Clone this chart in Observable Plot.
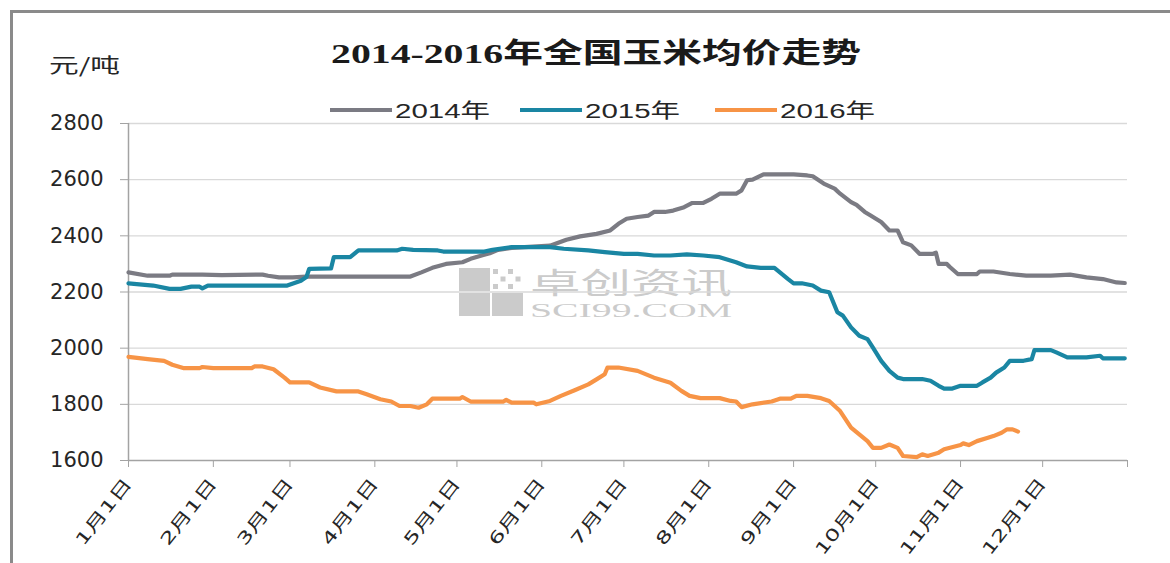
<!DOCTYPE html>
<html><head><meta charset="utf-8">
<script src="https://cdn.jsdelivr.net/npm/d3@7"></script>
<script src="https://cdn.jsdelivr.net/npm/@observablehq/plot@0.6"></script>
<style>
body{margin:0;background:#fff;}
#wrap{position:relative;width:1170px;height:563px;overflow:hidden;background:#fff;}
#frame{position:absolute;left:10px;top:10px;width:1200px;height:600px;border-top:3px solid #8a8a8a;border-left:3px solid #8a8a8a;pointer-events:none;}
#wrap svg{position:absolute;left:0;top:0;}
</style></head><body><div id="wrap"><div id="frame"></div></div>
<script>
const titleText = "2014-2016年全国玉米均价走势";
const unitText = "元/吨";
const seriesNames = ["2014年", "2015年", "2016年"];
const seriesColors = ["#7b7b83", "#1a86a3", "#f79446"];
const yTicks = [1600, 1800, 2000, 2200, 2400, 2600, 2800];
const monthLabels = ["1月1日","2月1日","3月1日","4月1日","5月1日","6月1日","7月1日","8月1日","9月1日","10月1日","11月1日","12月1日"];

const price2014 = [["1-1",2270],["1-8",2258],["1-16",2258],["1-17",2262],["1-28",2262],["2-4",2260],["2-19",2262],["2-21",2258],["2-25",2252],["3-2",2252],["3-7",2255],["4-14",2255],["4-18",2270],["4-22",2286],["4-27",2300],["5-3",2306],["5-6",2318],["5-10",2330],["5-13",2338],["5-16",2350],["5-21",2357],["6-4",2365],["6-10",2386],["6-15",2398],["6-21",2407],["6-26",2419],["6-29",2443],["7-2",2461],["7-6",2467],["7-10",2472],["7-12",2485],["7-16",2485],["7-19",2490],["7-23",2502],["7-26",2517],["7-30",2517],["8-2",2532],["8-5",2550],["8-11",2550],["8-13",2562],["8-15",2598],["8-17",2600],["8-21",2619],["9-1",2619],["9-6",2615],["9-8",2612],["9-12",2586],["9-16",2568],["9-18",2550],["9-22",2520],["9-24",2510],["9-27",2485],["9-29",2473],["10-3",2449],["10-6",2419],["10-9",2419],["10-11",2377],["10-14",2366],["10-17",2336],["10-22",2336],["10-23",2340],["10-24",2300],["10-27",2300],["10-28",2290],["10-31",2264],["11-7",2264],["11-8",2273],["11-13",2273],["11-19",2264],["11-25",2258],["12-4",2258],["12-11",2262],["12-17",2252],["12-23",2246],["12-28",2234],["12-31",2232]];

const price2015 = [["1-1",2231],["1-10",2223],["1-16",2211],["1-20",2211],["1-24",2219],["1-27",2219],["1-28",2213],["1-30",2223],["2-28",2223],["3-5",2240],["3-7",2253],["3-8",2282],["3-16",2284],["3-17",2324],["3-23",2324],["3-26",2348],["4-9",2348],["4-11",2354],["4-15",2350],["4-24",2348],["4-26",2344],["5-11",2344],["5-14",2350],["5-21",2360],["6-4",2360],["6-9",2354],["6-18",2348],["6-24",2342],["7-1",2336],["7-6",2336],["7-12",2330],["7-18",2330],["7-24",2334],["7-30",2330],["8-5",2324],["8-11",2306],["8-15",2291],["8-20",2286],["8-25",2286],["8-27",2270],["8-30",2246],["9-1",2231],["9-4",2231],["9-8",2223],["9-11",2205],["9-14",2199],["9-17",2128],["9-19",2116],["9-22",2074],["9-25",2044],["9-28",2032],["9-30",2002],["10-3",1955],["10-6",1919],["10-9",1895],["10-11",1890],["10-18",1890],["10-21",1884],["10-24",1866],["10-26",1856],["10-29",1856],["11-1",1866],["11-7",1866],["11-9",1878],["11-12",1895],["11-14",1913],["11-17",1931],["11-19",1955],["11-24",1955],["11-27",1961],["11-28",1993],["12-4",1993],["12-6",1985],["12-10",1967],["12-17",1967],["12-22",1973],["12-23",1964],["12-31",1964]];

const price2016 = [["1-1",1969],["1-8",1961],["1-14",1955],["1-17",1941],["1-21",1929],["1-27",1929],["1-28",1933],["2-1",1929],["2-15",1929],["2-16",1935],["2-19",1935],["2-23",1925],["2-27",1895],["3-1",1878],["3-8",1878],["3-12",1860],["3-18",1846],["3-26",1846],["3-29",1836],["4-3",1818],["4-7",1810],["4-10",1794],["4-14",1794],["4-17",1788],["4-20",1800],["4-22",1820],["5-2",1820],["5-3",1826],["5-6",1810],["5-18",1810],["5-19",1816],["5-21",1806],["5-29",1806],["5-30",1800],["6-4",1812],["6-8",1830],["6-13",1850],["6-18",1871],["6-21",1889],["6-24",1907],["6-25",1931],["6-29",1931],["7-6",1919],["7-12",1895],["7-18",1877],["7-22",1848],["7-25",1830],["7-29",1822],["8-5",1822],["8-9",1812],["8-11",1810],["8-13",1790],["8-17",1800],["8-24",1810],["8-27",1820],["8-31",1820],["9-2",1830],["9-6",1830],["9-11",1822],["9-14",1812],["9-18",1776],["9-22",1717],["9-25",1693],["9-28",1669],["9-30",1645],["10-3",1645],["10-6",1657],["10-9",1645],["10-11",1616],["10-16",1612],["10-18",1622],["10-20",1616],["10-24",1628],["10-26",1640],["11-1",1655],["11-2",1661],["11-4",1655],["11-7",1669],["11-11",1681],["11-13",1687],["11-16",1699],["11-18",1711],["11-20",1711],["11-22",1703]];

const toDate = s => { const [m, d] = s.split("-").map(Number); return new Date(Date.UTC(2015, m - 1, d)); };
const data = [];
[price2014, price2015, price2016].forEach((arr, i) => {
  arr.forEach(([md, v]) => data.push({series: seriesNames[i], date: toDate(md), value: v}));
});
const x0 = new Date(Date.UTC(2015, 0, 1)), x1 = new Date(Date.UTC(2016, 0, 1));
const xTicks = d3.range(12).map(m => new Date(Date.UTC(2015, m, 1))).concat([x1]);

const chart = Plot.plot({
  width: 1170, height: 563,
  marginLeft: 128, marginRight: 43, marginTop: 123, marginBottom: 103,
  style: {fontFamily: "'DejaVu Sans', 'Noto Sans CJK SC', sans-serif", color: "#262626", background: "transparent", overflow: "visible"},
  x: {type: "utc", domain: [x0, x1], label: null},
  y: {domain: [1600, 2800], label: null},
  color: {domain: seriesNames, range: seriesColors},
  marks: [
    Plot.gridY(yTicks.slice(1), {stroke: "#d9d9d9", strokeOpacity: 1, strokeWidth: 1.3}),
    Plot.ruleY([1600], {stroke: "#a3a3a3", strokeWidth: 1.5}),
    Plot.ruleX([x0], {stroke: "#a3a3a3", strokeWidth: 1.5}),
    Plot.axisY(yTicks, {tickSize: 8, tickPadding: 17, fontSize: 21, stroke: "#a3a3a3", fill: "#262626", label: null, tickFormat: d => String(d)}),
    Plot.axisX(xTicks, {tickSize: 7, tickPadding: 13, tickRotate: -52, fontSize: 16.5, stroke: "#a3a3a3", fill: "#262626", label: null,
      tickFormat: d => d.getUTCFullYear() === 2016 ? "" : monthLabels[d.getUTCMonth()]}),
    Plot.line(data, {x: "date", y: "value", z: "series", stroke: "series", strokeWidth: 4.2, strokeLinejoin: "round", strokeLinecap: "round"})
  ]
});

const svg = d3.select(chart);
svg.selectAll('g[aria-label="x-axis tick label"] text').each(function() {
  const t = this.textContent;
  if (t) { this.setAttribute("textLength", t.length > 4 ? 92 : 80); this.setAttribute("lengthAdjust", "spacingAndGlyphs"); }
});

// watermark (behind lines)
const wm = svg.insert("g", "g").attr("fill", "#cbcbcb").attr("text-anchor", "start");
wm.append("rect").attr("x", 459).attr("y", 268).attr("width", 31).attr("height", 23);
wm.append("rect").attr("x", 459).attr("y", 293).attr("width", 31).attr("height", 23);
wm.append("rect").attr("x", 492).attr("y", 293).attr("width", 31).attr("height", 23);
for (let i = 0; i < 4; i++) for (let j = 0; j < 3; j++) if ((i + j) % 2 === 0)
  wm.append("rect").attr("x", 493 + i * 7.5).attr("y", 269 + j * 7.5).attr("width", 5).attr("height", 5);
wm.append("text").attr("x", 530).attr("y", 294).attr("font-size", 29).attr("font-family", "'Noto Sans CJK SC'")
  .attr("textLength", 202).attr("lengthAdjust", "spacingAndGlyphs").text("卓创资讯");
wm.append("text").attr("x", 530).attr("y", 317).attr("font-size", 19).attr("font-family", "'Liberation Serif', serif")
  .attr("textLength", 202).attr("lengthAdjust", "spacingAndGlyphs").text("SCI99.COM");

// title, unit, legend
const ov = svg.append("g").attr("text-anchor", "start");
ov.append("text").attr("x", 331).attr("y", 63).attr("font-size", 28).attr("font-weight", "bold")
  .attr("font-family", "'Liberation Serif', 'Noto Sans CJK SC', serif").attr("fill", "#1a1a1a")
  .attr("textLength", 530).attr("lengthAdjust", "spacingAndGlyphs").text(titleText);
ov.append("text").attr("x", 49).attr("y", 73).attr("font-size", 20)
  .attr("font-family", "'Noto Sans CJK SC', sans-serif").attr("fill", "#262626")
  .attr("textLength", 71).attr("lengthAdjust", "spacingAndGlyphs").text(unitText);
const legX = [330, 520, 715];
seriesNames.forEach((name, i) => {
  ov.append("line").attr("x1", legX[i]).attr("x2", legX[i] + 62).attr("y1", 110).attr("y2", 110)
    .attr("stroke", seriesColors[i]).attr("stroke-width", 4);
  ov.append("text").attr("x", legX[i] + 65).attr("y", 118).attr("font-size", 20)
    .attr("font-family", "'Liberation Sans Narrow', 'Liberation Sans', 'Noto Sans CJK SC', sans-serif").attr("fill", "#262626")
    .attr("textLength", 95).attr("lengthAdjust", "spacingAndGlyphs").text(name);
});

document.getElementById("wrap").appendChild(chart);
</script></body></html>
